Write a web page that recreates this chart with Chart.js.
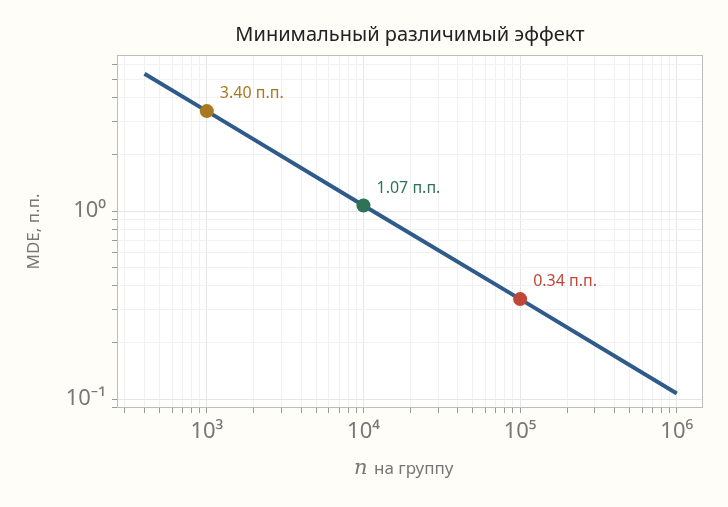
<!DOCTYPE html>
<html><head><meta charset="utf-8">
<script src="https://cdn.jsdelivr.net/npm/chart.js@4/dist/chart.umd.min.js"></script>
<style>html,body{margin:0;background:#fffdf8}#w{width:728px;height:507px}</style>
</head><body><div id="w"><canvas id="c"></canvas></div>
<script>
const lineN = [400, 1000, 10000, 100000, 1000000];
const lineMDE = [5.37, 3.40, 1.07, 0.34, 0.107];
const markN = [1000, 10000, 100000];
const markMDE = [3.40, 1.07, 0.34];
const markLabels = ['3.40 п.п.', '1.07 п.п.', '0.34 п.п.'];
const markColors = ['#a8791f', '#2f7357', '#c0463a'];
const xTicks = [1e3, 1e4, 1e5, 1e6];
const yTicks = [0.1, 1];
const sup = {'0':'⁰','1':'¹','2':'²','3':'³','4':'⁴','5':'⁵','6':'⁶','-':'⁻'};
const pw = v => '10' + String(Math.round(Math.log10(v))).split('').map(c => sup[c]).join('');
const isMajor = v => Math.abs(Math.log10(v) - Math.round(Math.log10(v))) < 1e-9;
function minorTicks(min, max) {
  const t = [];
  for (let e = Math.floor(Math.log10(min)); e <= Math.ceil(Math.log10(max)); e++)
    for (let m = 1; m < 10; m++) { const v = m * Math.pow(10, e); if (v >= min && v <= max) t.push({value: v}); }
  return t;
}
const FONT = "'Noto Sans','Open Sans',sans-serif";
const deco = {
  id: 'deco',
  beforeDraw(ch) {
    const {ctx, chartArea: a} = ch;
    ctx.save(); ctx.fillStyle = '#ffffff'; ctx.fillRect(a.left, a.top, a.right - a.left, a.bottom - a.top); ctx.restore();
  },
  afterDraw(ch) {
    const {ctx, chartArea: a} = ch, xs = ch.scales.x, ys = ch.scales.y;
    ctx.save();
    ctx.strokeStyle = '#bdbdbd'; ctx.lineWidth = 1;
    ctx.strokeRect(a.left + 0.5, a.top + 0.5, a.right - a.left - 1, a.bottom - a.top - 1);
    ctx.fillStyle = '#222'; ctx.font = '20px ' + FONT; ctx.textAlign = 'center'; ctx.textBaseline = 'alphabetic';
    ctx.fillText('Минимальный различимый эффект', (a.left + a.right) / 2, 41);
    markN.forEach((n, i) => {
      ctx.fillStyle = markColors[i]; ctx.font = '16px ' + FONT; ctx.textAlign = 'left';
      ctx.fillText(markLabels[i], xs.getPixelForValue(n) + 13, ys.getPixelForValue(markMDE[i]) - 13);
    });
    ctx.fillStyle = '#777'; ctx.textAlign = 'left';
    ctx.font = 'italic 21px "DejaVu Serif",serif';
    const cx = (a.left + a.right) / 2; ctx.fillText('n', cx - 56, 474);
    ctx.font = '17px ' + FONT; ctx.fillText('на группу', cx - 36, 474);
    ctx.restore();
  }
};
new Chart(document.getElementById('c'), {
  type: 'scatter',
  data: { datasets: [
    { data: markN.map((n, i) => ({x: n, y: markMDE[i]})), pointRadius: 7, pointBackgroundColor: markColors, pointBorderWidth: 0, showLine: false },
    { data: lineN.map((n, i) => ({x: n, y: lineMDE[i]})), showLine: true, borderColor: '#2f5b8a', borderWidth: 4, pointRadius: 0 }
  ]},
  options: {
    responsive: true, maintainAspectRatio: false, animation: false,
    layout: { padding: { top: 55, right: 25, left: 0, bottom: 0 } },
    plugins: { legend: { display: false }, tooltip: { enabled: false } },
    scales: {
      x: { type: 'logarithmic', min: 267, max: 1.47e6,
        afterBuildTicks: s => { s.ticks = minorTicks(267, 1.47e6); },
        afterFit: s => { s.height = 99; },
        grid: { color: c => isMajor(c.tick.value) ? '#e6e6e6' : '#f1f1f1', lineWidth: 1, drawTicks: true, tickLength: 5, tickColor: '#999' },
        border: { display: false },
        ticks: { autoSkip: false, maxRotation: 0, color: '#777', font: { size: 22, family: FONT }, padding: 6,
          callback: v => isMajor(v) && xTicks.includes(Math.round(v)) ? pw(v) : '' } },
      y: { type: 'logarithmic', min: 0.0896, max: 6.76,
        afterBuildTicks: s => { s.ticks = minorTicks(0.0896, 6.76); },
        afterFit: s => { s.width = 117; },
        grid: { color: c => isMajor(c.tick.value) ? '#e6e6e6' : '#f1f1f1', lineWidth: 1, drawTicks: true, tickLength: 5, tickColor: '#999' },
        border: { display: false },
        title: { display: true, text: 'MDE, п.п.', color: '#777', font: { size: 17, family: FONT }, padding: { top: 24, bottom: 0 } },
        ticks: { autoSkip: false, color: '#777', font: { size: 22, family: FONT }, padding: 6,
          callback: v => isMajor(v) ? pw(v) : '' } }
    }
  },
  plugins: [deco]
});
</script></body></html>
